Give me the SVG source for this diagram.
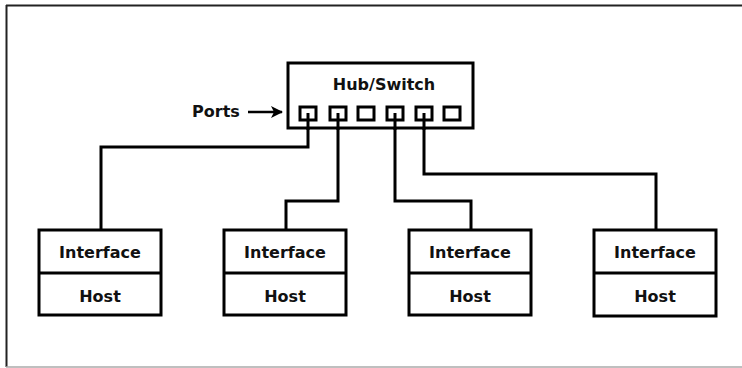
<svg xmlns="http://www.w3.org/2000/svg" width="742" height="368" viewBox="0 0 742 368">
<style>
.box{fill:#fff;stroke:#000;stroke-width:3}
.port{fill:#fff;stroke:#000;stroke-width:3}
.wire{fill:none;stroke:#000;stroke-width:3}
.t{font-family:"DejaVu Sans",sans-serif;font-weight:bold;font-size:16px;fill:#111;text-anchor:middle}
</style>
<defs>
<marker id="ah" viewBox="0 0 12 12" refX="11" refY="6" markerWidth="12" markerHeight="12" markerUnits="userSpaceOnUse" orient="auto">
<path d="M0,0 L12,6 L0,12 L3,6 Z" fill="#000"/>
</marker>
</defs>
<rect width="742" height="368" fill="#fff"/>
<g id="frame">
<line x1="6" y1="5.5" x2="742" y2="5.5" stroke="#222" stroke-width="2"/>
<line x1="6.5" y1="5" x2="6.5" y2="367" stroke="#222" stroke-width="2"/>
<line x1="6" y1="367" x2="742" y2="367" stroke="#aaa" stroke-width="1.5"/>
</g>
<g id="connectors">
<polyline class="wire" points="308,114 308,147 101,147 101,230"/>
<polyline class="wire" points="338,114 338,201 286,201 286,230"/>
<polyline class="wire" points="395,114 395,201 471,201 471,230"/>
<polyline class="wire" points="424,114 424,174 656,174 656,230"/>
<line x1="248" y1="112" x2="282" y2="112" stroke="#000" stroke-width="2.5" marker-end="url(#ah)"/>
</g>
<g id="hub">
<rect class="box" x="288" y="63" width="185" height="65"/>
<text class="t" x="384" y="90">Hub/Switch</text>
<rect class="port" x="300" y="107" width="16" height="13"/>
<rect class="port" x="330" y="107" width="16" height="13"/>
<rect class="port" x="358" y="107" width="16" height="13"/>
<rect class="port" x="387" y="107" width="16" height="13"/>
<rect class="port" x="416" y="107" width="16" height="13"/>
<rect class="port" x="444" y="107" width="16" height="13"/>
<line x1="308" y1="113" x2="308" y2="130" stroke="#000" stroke-width="3"/>
<line x1="338" y1="113" x2="338" y2="130" stroke="#000" stroke-width="3"/>
<line x1="395" y1="113" x2="395" y2="130" stroke="#000" stroke-width="3"/>
<line x1="424" y1="113" x2="424" y2="130" stroke="#000" stroke-width="3"/>
</g>
<g id="ports-label">
<text class="t" x="216" y="117">Ports</text>
</g>
<g id="host1">
<rect class="box" x="39" y="230" width="122" height="85"/>
<line x1="39" y1="273" x2="161" y2="273" stroke="#000" stroke-width="3"/>
<text class="t" x="100" y="258">Interface</text>
<text class="t" x="100" y="302">Host</text>
</g>
<g id="host2">
<rect class="box" x="224" y="230" width="122" height="85"/>
<line x1="224" y1="273" x2="346" y2="273" stroke="#000" stroke-width="3"/>
<text class="t" x="285" y="258">Interface</text>
<text class="t" x="285" y="302">Host</text>
</g>
<g id="host3">
<rect class="box" x="409" y="230" width="122" height="85"/>
<line x1="409" y1="273" x2="531" y2="273" stroke="#000" stroke-width="3"/>
<text class="t" x="470" y="258">Interface</text>
<text class="t" x="470" y="302">Host</text>
</g>
<g id="host4">
<rect class="box" x="594" y="230" width="122" height="86"/>
<line x1="594" y1="273" x2="716" y2="273" stroke="#000" stroke-width="3"/>
<text class="t" x="655" y="258">Interface</text>
<text class="t" x="655" y="302">Host</text>
</g>
</svg>
